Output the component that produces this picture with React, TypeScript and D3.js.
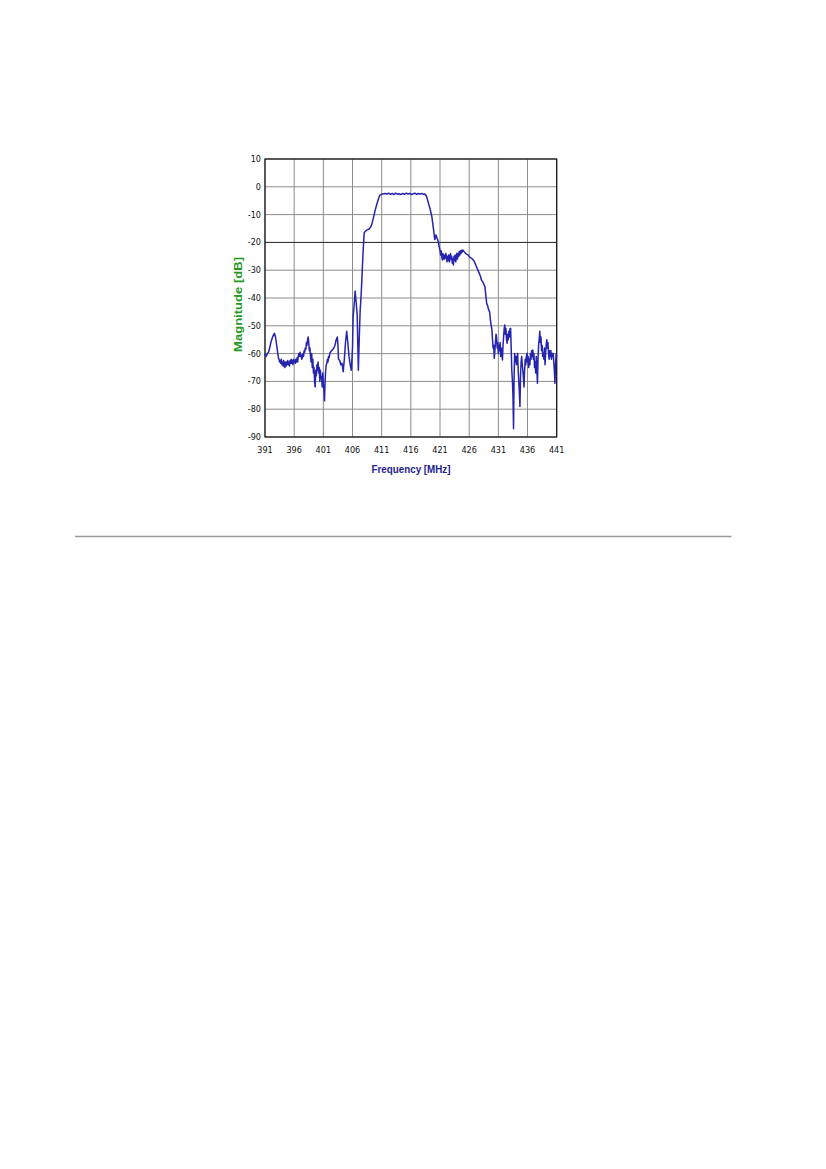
import React from "react";
import * as d3 from "d3";

// Frequency response trace (MHz, dB)
const freq: number[] = [
  391.0, 391.2, 391.4, 391.6, 391.8, 392.0, 392.3, 392.6, 392.8, 393.0, 393.2, 393.3,
  393.4, 393.5, 393.6, 393.7, 393.8, 393.9, 394.0, 394.1, 394.2, 394.3, 394.4, 394.5,
  394.6, 394.7, 394.8, 394.9, 395.0, 395.1, 395.2, 395.3, 395.4, 395.5, 395.6, 395.7,
  395.8, 395.9, 396.0, 396.1, 396.2, 396.3, 396.4, 396.5, 396.6, 396.7, 396.8, 396.9,
  397.0, 397.1, 397.2, 397.3, 397.4, 397.5, 397.6, 397.7, 397.8, 397.9, 398.0, 398.1,
  398.2, 398.3, 398.4, 398.5, 398.6, 398.7, 398.8, 398.9, 399.0, 399.1, 399.2, 399.3,
  399.4, 399.5, 399.6, 399.7, 399.8, 399.9, 400.0, 400.1, 400.2, 400.3, 400.4, 400.5,
  400.6, 400.7, 400.8, 400.9, 401.0, 401.1, 401.2, 401.3, 401.4, 401.5, 401.6, 401.7,
  401.8, 401.9, 402.0, 402.1, 402.2, 402.4, 402.6, 402.8, 403.0, 403.2, 403.4, 403.5,
  403.6, 403.8, 404.0, 404.2, 404.4, 404.6, 404.8, 405.0, 405.2, 405.4, 405.6, 405.8,
  406.0, 406.1, 406.3, 406.45, 406.6, 406.8, 407.0, 407.15, 407.3, 407.5, 407.6, 407.8,
  408.0, 408.2, 408.5, 408.8, 409.1, 409.3, 409.6, 409.9, 410.2, 410.5, 410.7, 411.0,
  411.3, 411.6, 411.9, 412.2, 412.5, 412.8, 413.1, 413.4, 413.7, 414.0, 414.3, 414.6,
  414.9, 415.2, 415.5, 415.8, 416.1, 416.4, 416.7, 417.0, 417.3, 417.6, 417.9, 418.2,
  418.4, 418.7, 419.0, 419.3, 419.6, 419.9, 420.1, 420.3, 420.5, 420.7, 420.9, 421.0,
  421.1, 421.2, 421.3, 421.4, 421.5, 421.6, 421.7, 421.8, 421.9, 422.0, 422.1, 422.2,
  422.3, 422.4, 422.5, 422.6, 422.7, 422.8, 422.9, 423.0, 423.1, 423.2, 423.3, 423.4,
  423.5, 423.6, 423.7, 423.8, 423.9, 424.0, 424.1, 424.2, 424.3, 424.4, 424.5, 424.6,
  424.7, 424.8, 424.9, 425.0, 425.2, 425.4, 425.8, 426.2, 426.6, 426.9, 427.2, 427.6,
  427.9, 428.1, 428.4, 428.7, 428.9, 429.0, 429.2, 429.3, 429.5, 429.7, 429.9, 430.0,
  430.1, 430.2, 430.3, 430.4, 430.5, 430.6, 430.7, 430.8, 430.9, 431.0, 431.1, 431.2,
  431.3, 431.4, 431.5, 431.6, 431.7, 431.8, 431.9, 432.0, 432.1, 432.2, 432.3, 432.4,
  432.5, 432.6, 432.7, 432.8, 432.9, 433.0, 433.1, 433.2, 433.3, 433.4, 433.5, 433.6,
  433.7, 433.8, 433.9, 434.0, 434.1, 434.2, 434.3, 434.4, 434.5, 434.6, 434.7, 434.8,
  434.9, 435.0, 435.1, 435.2, 435.3, 435.4, 435.5, 435.6, 435.7, 435.8, 435.9, 436.0,
  436.1, 436.2, 436.3, 436.4, 436.5, 436.6, 436.7, 436.8, 436.9, 437.0, 437.1, 437.2,
  437.3, 437.4, 437.5, 437.6, 437.7, 437.8, 437.9, 438.0, 438.1, 438.2, 438.3, 438.4,
  438.5, 438.6, 438.7, 438.8, 438.9, 439.0, 439.1, 439.2, 439.3, 439.4, 439.5, 439.6,
  439.7, 439.8, 439.9, 440.0, 440.1, 440.2, 440.3, 440.4, 440.5, 440.6, 440.7, 440.8,
  440.9, 441.0,
];

const magnitude: number[] = [
  -60, -61, -60, -59.5, -58, -56, -54, -52.7, -54, -57, -60, -61.5,
  -62, -63, -62.5, -63.5, -62, -64, -63, -64.5, -62.5, -64, -65, -63,
  -64.5, -63, -64, -62.5, -64, -63, -64.5, -62.5, -63.5, -62, -63.5, -62.5,
  -64, -62, -63, -62.5, -63.5, -62, -63, -61.5, -63, -61, -60, -61,
  -59.5, -61, -60.5, -62, -61.5, -60, -61, -59, -59.5, -58, -58.5, -56,
  -57, -55, -54, -56, -59, -58, -61, -63, -60, -65, -62, -67,
  -65, -70, -72, -66, -68, -64, -66, -63, -67, -65, -70, -66,
  -69, -68.3, -72, -67, -71, -73, -77, -70, -66, -64, -63.5, -62,
  -63, -61, -61.5, -60, -59.5, -59, -58.5, -58, -57, -55, -54, -57,
  -62, -62.5, -64, -63.5, -66.5, -62, -56, -52, -56, -61, -64, -66,
  -58, -47, -42, -37.5, -41, -46, -66, -55, -45, -38, -33.5, -24,
  -16.5, -16, -15.5, -15.3, -14.5, -13.5, -11, -8.3, -6, -4, -3, -2.7,
  -2.5, -2.4, -2.6, -2.3, -2.7, -2.4, -2.8, -2.3, -2.6, -2.5, -2.8, -2.4,
  -2.7, -2.3, -2.6, -2.4, -2.8, -2.5, -2.3, -2.7, -2.4, -2.6, -2.4, -2.7,
  -2.6, -3.5, -5.8, -8, -10.7, -15.5, -19, -17.3, -18.5, -19.7, -22, -23,
  -24.5, -23, -25, -26.3, -24, -26, -24.5, -26, -25.5, -24, -25.1, -27,
  -25, -26.5, -24.5, -27, -26.3, -24, -26, -25, -27.5, -26, -28.1, -25,
  -26.5, -24.5, -27, -25, -23.9, -26, -24, -25, -23.3, -24.5, -23, -24,
  -22.8, -23.5, -22.7, -23, -23.5, -24, -24.5, -25.5, -26, -27, -28.5, -30.5,
  -32, -33.5, -34.5, -36, -40, -42, -43, -44, -45, -49, -51.5, -55,
  -58, -57, -61.7, -59, -56, -53, -54.5, -58, -56, -60, -57, -59,
  -56, -61, -58, -60, -62.3, -57, -54, -51, -49.7, -53, -51, -55,
  -56.3, -53, -55, -52, -54, -51, -50.9, -58, -66, -69.5, -75, -87,
  -68, -60, -63, -61, -64, -62, -60, -66, -70, -74, -79, -68,
  -63, -61, -64, -66, -69, -72, -66, -62, -64, -61, -59.9, -63,
  -61, -65, -62, -64, -60, -62, -59, -61, -58.7, -62, -60, -65,
  -63, -67, -61, -66, -70.7, -62, -57, -55, -52, -56, -54, -59,
  -57, -61, -59.9, -62, -58, -64, -60, -57, -55, -58, -56, -60,
  -62, -59, -61, -59, -62, -59.9, -61, -60, -63, -66, -70.7, -64,
  -60, -61,
];

const xTicks: number[] = [391, 396, 401, 406, 411, 416, 421, 426, 431, 436, 441];
const yTicks: number[] = [10, 0, -10, -20, -30, -40, -50, -60, -70, -80, -90];

const xTitle = "Frequency [MHz]";
const yTitle = "Magnitude [dB]";

export default function App() {
  const left = 265;
  const right = 556.7;
  const top = 159;
  const bottom = 437;

  const x = d3.scaleLinear().domain([391, 441]).range([left, right]);
  const y = d3.scaleLinear().domain([-90, 10]).range([bottom, top]);

  const pts: [number, number][] = freq.map((f, i) => [f, magnitude[i]]);
  const line = d3
    .line<[number, number]>()
    .x((d) => x(d[0]))
    .y((d) => y(d[1]));

  const font = "'Liberation Sans', Arial, sans-serif";
  const tickFont = "'Liberation Sans Narrow', 'DejaVu Sans Condensed', 'Liberation Sans', Arial, sans-serif";

  return (
    <svg
      width={826}
      height={1169}
      style={{ position: "absolute", left: 0, top: 0, background: "#fff" }}
    >
      <rect x={0} y={0} width={826} height={1169} fill="#fff" />
      {/* grid */}
      {xTicks.map((t) => (
        <line
          key={"gx" + t}
          x1={x(t)}
          x2={x(t)}
          y1={top}
          y2={bottom}
          stroke="#8c8c8c"
          strokeWidth={1}
        />
      ))}
      {yTicks.map((t) => (
        <line
          key={"gy" + t}
          x1={left}
          x2={right}
          y1={y(t)}
          y2={y(t)}
          stroke={t === -20 ? "#222" : "#8c8c8c"}
          strokeWidth={1}
        />
      ))}
      <rect
        x={left}
        y={top}
        width={right - left}
        height={bottom - top}
        fill="none"
        stroke="#111"
        strokeWidth={1.2}
      />
      {/* trace */}
      <path
        d={line(pts) || ""}
        fill="none"
        stroke="#2424b0"
        strokeWidth={1.5}
        strokeLinejoin="round"
      />
      {/* tick labels */}
      {yTicks.map((t) => (
        <text
          key={"ty" + t}
          x={left - 4}
          y={y(t) + 3}
          textAnchor="end"
          fontFamily={tickFont}
          fontSize={9}
          fill="#111"
        >
          {t}
        </text>
      ))}
      {xTicks.map((t) => (
        <text
          key={"tx" + t}
          x={x(t)}
          y={452.5}
          textAnchor="middle"
          fontFamily={tickFont}
          fontSize={9}
          fill="#111"
        >
          {t}
        </text>
      ))}
      {/* titles */}
      <text
        x={411}
        y={473}
        textAnchor="middle"
        fontFamily={font}
        fontSize={10.5}
        fontWeight="bold"
        fill="#22228e"
        textLength={79}
        lengthAdjust="spacingAndGlyphs"
      >
        {xTitle}
      </text>
      <text
        transform="translate(241.5,304.5) rotate(-90)"
        textAnchor="middle"
        fontFamily={font}
        fontSize={10.5}
        fontWeight="bold"
        fill="#1f9a1f"
        textLength={95}
        lengthAdjust="spacingAndGlyphs"
      >
        {yTitle}
      </text>
      {/* separator rule */}
      <line x1={75} x2={731.5} y1={536.5} y2={536.5} stroke="#9a9a9a" strokeWidth={1.3} />
    </svg>
  );
}
